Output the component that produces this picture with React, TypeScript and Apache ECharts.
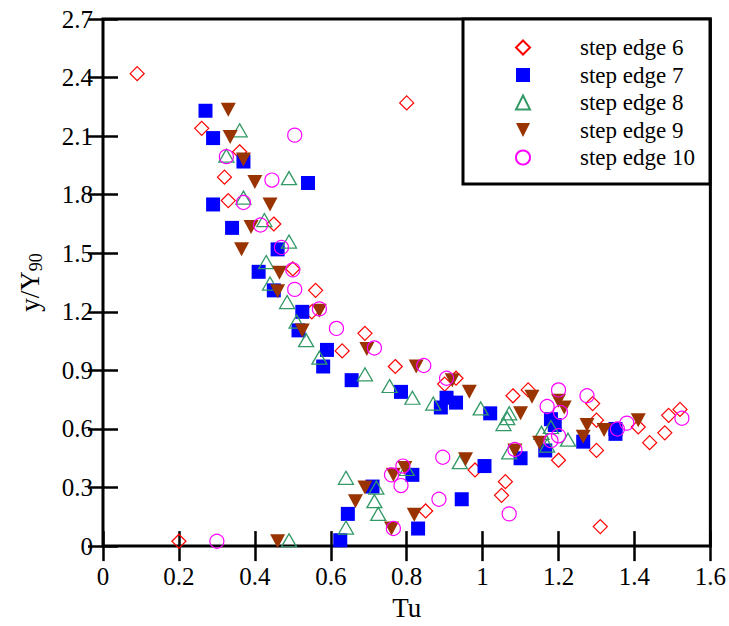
import React, { useEffect, useRef } from "react";
import * as echarts from "echarts";

const FONT = "Liberation Serif";

const xTicks = { min: 0, max: 1.6, interval: 0.2 };
const yTicks = { min: 0, max: 2.7, interval: 0.3 };

const seriesNames = ["step edge 6", "step edge 7", "step edge 8", "step edge 9", "step edge 10"];

const edge6: number[][] = [
  [0.09, 2.42], [0.26, 2.14], [0.36, 2.02], [0.32, 1.89], [0.33, 1.77], [0.45, 1.65],
  [0.50, 1.42], [0.56, 1.31], [0.55, 1.20], [0.63, 1.00], [0.69, 1.09], [0.77, 0.92],
  [0.80, 2.27], [0.90, 0.83], [0.93, 0.86], [1.08, 0.77], [1.12, 0.80], [0.98, 0.39],
  [1.06, 0.33], [1.05, 0.26], [0.85, 0.18], [1.29, 0.73], [1.30, 0.645], [1.30, 0.49],
  [1.20, 0.44], [1.31, 0.10], [1.41, 0.61], [1.44, 0.53], [1.48, 0.58], [1.49, 0.67],
  [1.52, 0.70], [0.20, 0.025],
];

const edge7: number[][] = [
  [0.27, 2.23], [0.29, 2.09], [0.37, 1.97], [0.54, 1.86], [0.29, 1.75], [0.34, 1.63],
  [0.46, 1.52], [0.41, 1.405], [0.45, 1.31], [0.525, 1.20], [0.515, 1.105], [0.59, 1.005],
  [0.58, 0.92], [0.655, 0.85], [0.785, 0.79], [0.905, 0.76], [0.93, 0.735], [0.89, 0.71],
  [1.02, 0.68], [1.18, 0.65], [1.19, 0.62], [1.165, 0.49], [1.10, 0.45], [1.005, 0.41],
  [0.815, 0.365], [0.71, 0.305], [0.645, 0.165], [0.945, 0.24], [0.83, 0.09], [0.625, 0.03],
  [1.265, 0.535], [1.35, 0.60], [1.35, 0.575],
];

const edge8: number[][] = [
  [0.36, 2.13], [0.325, 2.0], [0.49, 1.885], [0.37, 1.785], [0.425, 1.67], [0.49, 1.56],
  [0.43, 1.455], [0.44, 1.345], [0.485, 1.25], [0.51, 1.15], [0.535, 1.055], [0.57, 0.965],
  [0.69, 0.88], [0.755, 0.82], [0.815, 0.76], [0.87, 0.73], [0.995, 0.705], [1.07, 0.68],
  [1.065, 0.655], [1.055, 0.625], [1.155, 0.58], [1.07, 0.48], [0.94, 0.43], [0.64, 0.35],
  [0.72, 0.30], [0.715, 0.23], [0.725, 0.165], [0.64, 0.095], [0.80, 0.395], [1.18, 0.61],
  [1.225, 0.545], [1.17, 0.515], [0.49, 0.03],
];

const edge9: number[][] = [
  [0.33, 2.235], [0.335, 2.095], [0.37, 1.98], [0.40, 1.865], [0.44, 1.75], [0.39, 1.635],
  [0.365, 1.52], [0.465, 1.40], [0.46, 1.305], [0.57, 1.205], [0.525, 1.105], [0.695, 1.01],
  [0.825, 0.92], [0.92, 0.85], [0.965, 0.79], [1.10, 0.68], [1.13, 0.765], [1.15, 0.53],
  [1.085, 0.49], [0.955, 0.445], [0.795, 0.40], [0.765, 0.365], [0.69, 0.30], [0.665, 0.23],
  [0.82, 0.16], [0.76, 0.09], [1.20, 0.745], [1.215, 0.71], [1.275, 0.62], [1.265, 0.56],
  [1.32, 0.595], [1.41, 0.645], [0.46, 0.025],
];

const edge10: number[][] = [
  [0.505, 2.105], [0.325, 1.995], [0.445, 1.875], [0.37, 1.76], [0.415, 1.645], [0.47, 1.53],
  [0.50, 1.415], [0.505, 1.315], [0.57, 1.215], [0.615, 1.115], [0.715, 1.015], [0.845, 0.925],
  [0.905, 0.86], [1.085, 0.495], [0.895, 0.455], [0.79, 0.41], [0.76, 0.365], [0.785, 0.31],
  [0.885, 0.24], [0.765, 0.09], [1.07, 0.165], [1.20, 0.80], [1.275, 0.77], [1.17, 0.715],
  [1.205, 0.685], [1.20, 0.565], [1.18, 0.54], [1.355, 0.60], [1.38, 0.63], [1.525, 0.655],
  [0.30, 0.025],
];

const hollow = "rgba(255,255,255,0)";

export default function App() {
  const ref = useRef<HTMLDivElement>(null);
  useEffect(() => {
    if (!ref.current) return;
    const chart = echarts.init(ref.current, null, { renderer: "svg" });
    const tickStyle = { show: true, inside: true, length: 15, lineStyle: { color: "#000", width: 2.5 } };
    const labelStyle = { color: "#000", fontSize: 25, fontFamily: FONT };
    chart.setOption({
      animation: false,
      backgroundColor: "#fff",
      textStyle: { fontFamily: FONT },
      grid: {
        left: 103, right: 18, top: 19, bottom: 79,
        show: true, borderColor: "#000", borderWidth: 3, backgroundColor: "transparent",
      },
      xAxis: [
        {
          type: "value", position: "bottom", ...xTicks,
          axisLine: { show: false }, axisTick: tickStyle, splitLine: { show: false },
          axisLabel: { ...labelStyle, margin: 18 },
          name: "Tu", nameLocation: "middle", nameGap: 45,
          nameTextStyle: { color: "#000", fontSize: 27, fontFamily: FONT },
        },
        {
          type: "value", position: "top", ...xTicks,
          axisLine: { show: false }, axisTick: tickStyle, splitLine: { show: false },
          axisLabel: { show: false },
        },
      ],
      yAxis: [
        {
          type: "value", position: "left", ...yTicks,
          axisLine: { show: false }, axisTick: tickStyle, splitLine: { show: false },
          axisLabel: { ...labelStyle, margin: 10 },
          name: "{a|y/Y}{b|90}", nameLocation: "middle", nameGap: 58, nameRotate: 90,
          nameTextStyle: {
            color: "#000", fontSize: 27, fontFamily: FONT,
            rich: {
              a: { fontSize: 27, fontFamily: FONT, color: "#000", lineHeight: 31 },
              b: { fontSize: 18, fontFamily: FONT, color: "#000", lineHeight: 18, verticalAlign: "bottom" },
            },
          },
        },
        {
          type: "value", position: "right", ...yTicks,
          axisLine: { show: false }, axisTick: tickStyle, splitLine: { show: false },
          axisLabel: { show: false },
        },
      ],
      graphic: [
        {
          type: "rect", z: 10,
          shape: { x: 463, y: 19, width: 247, height: 165 },
          style: { fill: "#fff", stroke: "#000", lineWidth: 3 },
        },
      ],
      legend: {
        z: 12, orient: "vertical", left: 515, top: 36, padding: 0, itemGap: 4.5,
        itemWidth: 14, itemHeight: 14,
        data: [
          seriesNames[0],
          seriesNames[1],
          seriesNames[2],
          { name: seriesNames[3], icon: "path://M0,0 L10,0 L5,10 Z" },
          seriesNames[4],
        ],
        formatter: (name: string) => "{t|" + name + "}",
        textStyle: {
          color: "#000", fontFamily: FONT, fontSize: 23,
          rich: { t: { fontSize: 23, fontFamily: FONT, color: "#000", padding: [0, 0, 0, 45] } },
        },
      },
      series: [
        {
          name: seriesNames[0], type: "scatter", data: edge6, symbol: "diamond", symbolSize: 14,
          itemStyle: { color: hollow, borderColor: "#ff0000", borderWidth: 1.2, opacity: 1 },
        },
        {
          name: seriesNames[1], type: "scatter", data: edge7, symbol: "rect", symbolSize: 14,
          itemStyle: { color: "#0000ff", opacity: 1 },
        },
        {
          name: seriesNames[2], type: "scatter", data: edge8, symbol: "triangle", symbolSize: [15, 13],
          itemStyle: { color: hollow, borderColor: "#339966", borderWidth: 1.3, opacity: 1 },
        },
        {
          name: seriesNames[3], type: "scatter", data: edge9, symbol: "triangle", symbolRotate: 180,
          symbolSize: [15, 14], itemStyle: { color: "#993300", opacity: 1 },
        },
        {
          name: seriesNames[4], type: "scatter", data: edge10, symbol: "circle", symbolSize: 14,
          itemStyle: { color: hollow, borderColor: "#ff00ff", borderWidth: 1.2, opacity: 1 },
        },
      ],
    });
    return () => chart.dispose();
  }, []);
  return <div ref={ref} style={{ width: 729, height: 626, position: "absolute", left: 0, top: 0 }} />;
}
